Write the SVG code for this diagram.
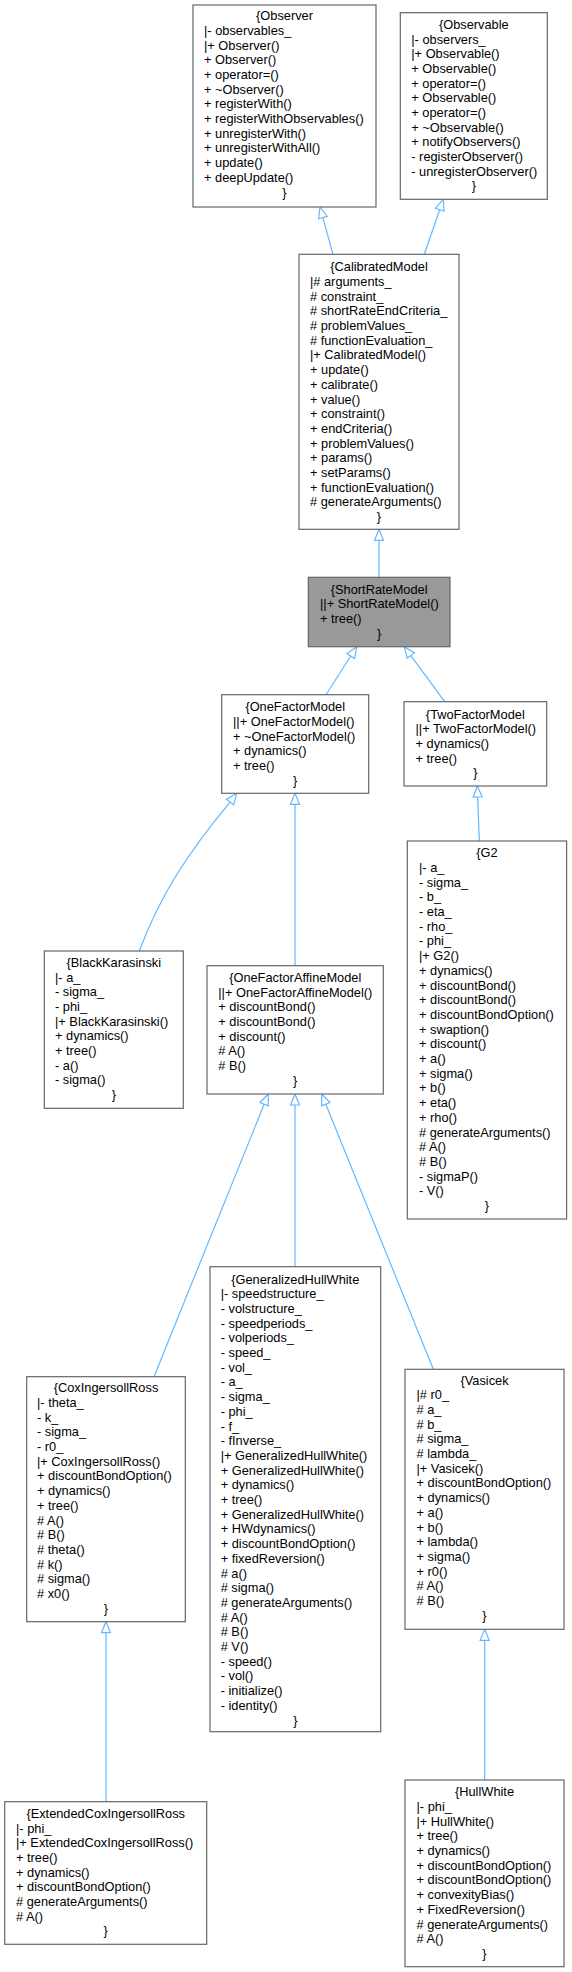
<svg xmlns="http://www.w3.org/2000/svg" width="572" height="1972" viewBox="0 0 572 1972">
<style>
.box{fill:#ffffff;stroke:#666666;stroke-width:1.2}
.hl{fill:#999999;stroke:#666666;stroke-width:1.2}
.t{font-family:"Liberation Sans",Arial,Helvetica,sans-serif;font-size:12.8px;fill:#000000}
.c{text-anchor:middle}
.e{fill:none;stroke:#63b8ff;stroke-width:1.2}
.ah{fill:#ffffff;stroke:#63b8ff;stroke-width:1.2}
</style>
<rect x="0" y="0" width="572" height="1972" fill="#ffffff"/>
<g id="edges">
<path class="e" d="M333,254.3 L322.9,217.6"/><polygon class="ah" points="320,207 327.2,216.4 318.6,218.8"/>
<path class="e" d="M424.3,254.3 L439.7,209.7"/><polygon class="ah" points="443.3,199.3 444,211.2 435.5,208.2"/>
<path class="e" d="M379,577.3 L379,540.3"/><polygon class="ah" points="379,529.3 383.5,540.3 374.5,540.3"/>
<path class="e" d="M326,694.7 L350.8,656"/><polygon class="ah" points="356.7,646.7 354.6,658.4 347,653.6"/>
<path class="e" d="M444.7,701.7 L410.8,655.6"/><polygon class="ah" points="404.3,646.7 414.4,652.9 407.2,658.2"/>
<path class="e" d="M479.3,841 L477.7,797"/><polygon class="ah" points="477.3,786 482.2,796.8 473.2,797.2"/>
<path class="e" d="M139.3,951 C160,895 190,850 230.1,802.1"/><polygon class="ah" points="236.7,793.3 233.7,804.8 226.5,799.4"/>
<path class="e" d="M295,965.7 L295,804.3"/><polygon class="ah" points="295,793.3 299.5,804.3 290.5,804.3"/>
<path class="e" d="M154,1376.7 L264.2,1104.2"/><polygon class="ah" points="268.3,1094 268.4,1105.9 260,1102.5"/>
<path class="e" d="M295,1266.7 L295,1105"/><polygon class="ah" points="295,1094 299.5,1105 290.5,1105"/>
<path class="e" d="M433.3,1369.3 L325.8,1104.2"/><polygon class="ah" points="321.7,1094 330,1102.5 321.7,1105.9"/>
<path class="e" d="M106,1801.7 L106,1632.7"/><polygon class="ah" points="106,1621.7 110.5,1632.7 101.5,1632.7"/>
<path class="e" d="M484.7,1780 L484.7,1640.3"/><polygon class="ah" points="484.7,1629.3 489.2,1640.3 480.2,1640.3"/>
</g>
<g id="Observer">
<rect class="box" x="193" y="5" width="183" height="202"/>
<text class="t" y="20.2"><tspan class="c" x="284.5">{Observer</tspan><tspan x="204" dy="14.7">|- observables_</tspan><tspan x="204" dy="14.7">|+ Observer()</tspan><tspan x="204" dy="14.7">+ Observer()</tspan><tspan x="204" dy="14.7">+ operator=()</tspan><tspan x="204" dy="14.7">+ ~Observer()</tspan><tspan x="204" dy="14.7">+ registerWith()</tspan><tspan x="204" dy="14.7">+ registerWithObservables()</tspan><tspan x="204" dy="14.7">+ unregisterWith()</tspan><tspan x="204" dy="14.7">+ unregisterWithAll()</tspan><tspan x="204" dy="14.7">+ update()</tspan><tspan x="204" dy="14.7">+ deepUpdate()</tspan><tspan class="c" x="284.5" dy="14.7">}</tspan></text>
</g>
<g id="Observable">
<rect class="box" x="400.3" y="12.7" width="147" height="186.6"/>
<text class="t" y="28.8"><tspan class="c" x="473.8">{Observable</tspan><tspan x="411.3" dy="14.7">|- observers_</tspan><tspan x="411.3" dy="14.7">|+ Observable()</tspan><tspan x="411.3" dy="14.7">+ Observable()</tspan><tspan x="411.3" dy="14.7">+ operator=()</tspan><tspan x="411.3" dy="14.7">+ Observable()</tspan><tspan x="411.3" dy="14.7">+ operator=()</tspan><tspan x="411.3" dy="14.7">+ ~Observable()</tspan><tspan x="411.3" dy="14.7">+ notifyObservers()</tspan><tspan x="411.3" dy="14.7">- registerObserver()</tspan><tspan x="411.3" dy="14.7">- unregisterObserver()</tspan><tspan class="c" x="473.8" dy="14.7">}</tspan></text>
</g>
<g id="CalibratedModel">
<rect class="box" x="299" y="254.3" width="160" height="275"/>
<text class="t" y="271.2"><tspan class="c" x="379">{CalibratedModel</tspan><tspan x="310" dy="14.7">|# arguments_</tspan><tspan x="310" dy="14.7"># constraint_</tspan><tspan x="310" dy="14.7"># shortRateEndCriteria_</tspan><tspan x="310" dy="14.7"># problemValues_</tspan><tspan x="310" dy="14.7"># functionEvaluation_</tspan><tspan x="310" dy="14.7">|+ CalibratedModel()</tspan><tspan x="310" dy="14.7">+ update()</tspan><tspan x="310" dy="14.7">+ calibrate()</tspan><tspan x="310" dy="14.7">+ value()</tspan><tspan x="310" dy="14.7">+ constraint()</tspan><tspan x="310" dy="14.7">+ endCriteria()</tspan><tspan x="310" dy="14.7">+ problemValues()</tspan><tspan x="310" dy="14.7">+ params()</tspan><tspan x="310" dy="14.7">+ setParams()</tspan><tspan x="310" dy="14.7">+ functionEvaluation()</tspan><tspan x="310" dy="14.7"># generateArguments()</tspan><tspan class="c" x="379" dy="14.7">}</tspan></text>
</g>
<g id="ShortRateModel">
<rect class="hl" x="308.3" y="577.3" width="141.7" height="69.4"/>
<text class="t" y="593.5"><tspan class="c" x="379.2">{ShortRateModel</tspan><tspan x="320" dy="14.7">||+ ShortRateModel()</tspan><tspan x="320" dy="14.7">+ tree()</tspan><tspan class="c" x="379.2" dy="14.7">}</tspan></text>
</g>
<g id="OneFactorModel">
<rect class="box" x="221.7" y="694.7" width="147" height="98.6"/>
<text class="t" y="711.2"><tspan class="c" x="295.2">{OneFactorModel</tspan><tspan x="233" dy="14.7">||+ OneFactorModel()</tspan><tspan x="233" dy="14.7">+ ~OneFactorModel()</tspan><tspan x="233" dy="14.7">+ dynamics()</tspan><tspan x="233" dy="14.7">+ tree()</tspan><tspan class="c" x="295.2" dy="14.7">}</tspan></text>
</g>
<g id="TwoFactorModel">
<rect class="box" x="404" y="701.7" width="142.7" height="84.3"/>
<text class="t" y="718.5"><tspan class="c" x="475.3">{TwoFactorModel</tspan><tspan x="415.5" dy="14.7">||+ TwoFactorModel()</tspan><tspan x="415.5" dy="14.7">+ dynamics()</tspan><tspan x="415.5" dy="14.7">+ tree()</tspan><tspan class="c" x="475.3" dy="14.7">}</tspan></text>
</g>
<g id="G2">
<rect class="box" x="407.3" y="841" width="159.3" height="378"/>
<text class="t" y="857.2"><tspan class="c" x="487">{G2</tspan><tspan x="419" dy="14.7">|- a_</tspan><tspan x="419" dy="14.7">- sigma_</tspan><tspan x="419" dy="14.7">- b_</tspan><tspan x="419" dy="14.7">- eta_</tspan><tspan x="419" dy="14.7">- rho_</tspan><tspan x="419" dy="14.7">- phi_</tspan><tspan x="419" dy="14.7">|+ G2()</tspan><tspan x="419" dy="14.7">+ dynamics()</tspan><tspan x="419" dy="14.7">+ discountBond()</tspan><tspan x="419" dy="14.7">+ discountBond()</tspan><tspan x="419" dy="14.7">+ discountBondOption()</tspan><tspan x="419" dy="14.7">+ swaption()</tspan><tspan x="419" dy="14.7">+ discount()</tspan><tspan x="419" dy="14.7">+ a()</tspan><tspan x="419" dy="14.7">+ sigma()</tspan><tspan x="419" dy="14.7">+ b()</tspan><tspan x="419" dy="14.7">+ eta()</tspan><tspan x="419" dy="14.7">+ rho()</tspan><tspan x="419" dy="14.7"># generateArguments()</tspan><tspan x="419" dy="14.7"># A()</tspan><tspan x="419" dy="14.7"># B()</tspan><tspan x="419" dy="14.7">- sigmaP()</tspan><tspan x="419" dy="14.7">- V()</tspan><tspan class="c" x="487" dy="14.7">}</tspan></text>
</g>
<g id="BlackKarasinski">
<rect class="box" x="44.3" y="951" width="139" height="157.3"/>
<text class="t" y="966.8"><tspan class="c" x="113.8">{BlackKarasinski</tspan><tspan x="55" dy="14.7">|- a_</tspan><tspan x="55" dy="14.7">- sigma_</tspan><tspan x="55" dy="14.7">- phi_</tspan><tspan x="55" dy="14.7">|+ BlackKarasinski()</tspan><tspan x="55" dy="14.7">+ dynamics()</tspan><tspan x="55" dy="14.7">+ tree()</tspan><tspan x="55" dy="14.7">- a()</tspan><tspan x="55" dy="14.7">- sigma()</tspan><tspan class="c" x="113.8" dy="14.7">}</tspan></text>
</g>
<g id="OneFactorAffineModel">
<rect class="box" x="207" y="965.7" width="176.3" height="128.3"/>
<text class="t" y="981.8"><tspan class="c" x="295.2">{OneFactorAffineModel</tspan><tspan x="218.3" dy="14.7">||+ OneFactorAffineModel()</tspan><tspan x="218.3" dy="14.7">+ discountBond()</tspan><tspan x="218.3" dy="14.7">+ discountBond()</tspan><tspan x="218.3" dy="14.7">+ discount()</tspan><tspan x="218.3" dy="14.7"># A()</tspan><tspan x="218.3" dy="14.7"># B()</tspan><tspan class="c" x="295.2" dy="14.7">}</tspan></text>
</g>
<g id="GeneralizedHullWhite">
<rect class="box" x="210" y="1266.7" width="170.7" height="465"/>
<text class="t" y="1283.5"><tspan class="c" x="295.3">{GeneralizedHullWhite</tspan><tspan x="220.7" dy="14.7">|- speedstructure_</tspan><tspan x="220.7" dy="14.7">- volstructure_</tspan><tspan x="220.7" dy="14.7">- speedperiods_</tspan><tspan x="220.7" dy="14.7">- volperiods_</tspan><tspan x="220.7" dy="14.7">- speed_</tspan><tspan x="220.7" dy="14.7">- vol_</tspan><tspan x="220.7" dy="14.7">- a_</tspan><tspan x="220.7" dy="14.7">- sigma_</tspan><tspan x="220.7" dy="14.7">- phi_</tspan><tspan x="220.7" dy="14.7">- f_</tspan><tspan x="220.7" dy="14.7">- fInverse_</tspan><tspan x="220.7" dy="14.7">|+ GeneralizedHullWhite()</tspan><tspan x="220.7" dy="14.7">+ GeneralizedHullWhite()</tspan><tspan x="220.7" dy="14.7">+ dynamics()</tspan><tspan x="220.7" dy="14.7">+ tree()</tspan><tspan x="220.7" dy="14.7">+ GeneralizedHullWhite()</tspan><tspan x="220.7" dy="14.7">+ HWdynamics()</tspan><tspan x="220.7" dy="14.7">+ discountBondOption()</tspan><tspan x="220.7" dy="14.7">+ fixedReversion()</tspan><tspan x="220.7" dy="14.7"># a()</tspan><tspan x="220.7" dy="14.7"># sigma()</tspan><tspan x="220.7" dy="14.7"># generateArguments()</tspan><tspan x="220.7" dy="14.7"># A()</tspan><tspan x="220.7" dy="14.7"># B()</tspan><tspan x="220.7" dy="14.7"># V()</tspan><tspan x="220.7" dy="14.7">- speed()</tspan><tspan x="220.7" dy="14.7">- vol()</tspan><tspan x="220.7" dy="14.7">- initialize()</tspan><tspan x="220.7" dy="14.7">- identity()</tspan><tspan class="c" x="295.3" dy="14.7">}</tspan></text>
</g>
<g id="CoxIngersollRoss">
<rect class="box" x="26.7" y="1376.7" width="158.6" height="245"/>
<text class="t" y="1392.2"><tspan class="c" x="106">{CoxIngersollRoss</tspan><tspan x="37" dy="14.7">|- theta_</tspan><tspan x="37" dy="14.7">- k_</tspan><tspan x="37" dy="14.7">- sigma_</tspan><tspan x="37" dy="14.7">- r0_</tspan><tspan x="37" dy="14.7">|+ CoxIngersollRoss()</tspan><tspan x="37" dy="14.7">+ discountBondOption()</tspan><tspan x="37" dy="14.7">+ dynamics()</tspan><tspan x="37" dy="14.7">+ tree()</tspan><tspan x="37" dy="14.7"># A()</tspan><tspan x="37" dy="14.7"># B()</tspan><tspan x="37" dy="14.7"># theta()</tspan><tspan x="37" dy="14.7"># k()</tspan><tspan x="37" dy="14.7"># sigma()</tspan><tspan x="37" dy="14.7"># x0()</tspan><tspan class="c" x="106" dy="14.7">}</tspan></text>
</g>
<g id="Vasicek">
<rect class="box" x="405" y="1369.3" width="159" height="260"/>
<text class="t" y="1384.5"><tspan class="c" x="484.5">{Vasicek</tspan><tspan x="416.5" dy="14.7">|# r0_</tspan><tspan x="416.5" dy="14.7"># a_</tspan><tspan x="416.5" dy="14.7"># b_</tspan><tspan x="416.5" dy="14.7"># sigma_</tspan><tspan x="416.5" dy="14.7"># lambda_</tspan><tspan x="416.5" dy="14.7">|+ Vasicek()</tspan><tspan x="416.5" dy="14.7">+ discountBondOption()</tspan><tspan x="416.5" dy="14.7">+ dynamics()</tspan><tspan x="416.5" dy="14.7">+ a()</tspan><tspan x="416.5" dy="14.7">+ b()</tspan><tspan x="416.5" dy="14.7">+ lambda()</tspan><tspan x="416.5" dy="14.7">+ sigma()</tspan><tspan x="416.5" dy="14.7">+ r0()</tspan><tspan x="416.5" dy="14.7"># A()</tspan><tspan x="416.5" dy="14.7"># B()</tspan><tspan class="c" x="484.5" dy="14.7">}</tspan></text>
</g>
<g id="ExtendedCoxIngersollRoss">
<rect class="box" x="4.7" y="1801.7" width="202" height="142.6"/>
<text class="t" y="1817.8"><tspan class="c" x="105.7">{ExtendedCoxIngersollRoss</tspan><tspan x="16" dy="14.7">|- phi_</tspan><tspan x="16" dy="14.7">|+ ExtendedCoxIngersollRoss()</tspan><tspan x="16" dy="14.7">+ tree()</tspan><tspan x="16" dy="14.7">+ dynamics()</tspan><tspan x="16" dy="14.7">+ discountBondOption()</tspan><tspan x="16" dy="14.7"># generateArguments()</tspan><tspan x="16" dy="14.7"># A()</tspan><tspan class="c" x="105.7" dy="14.7">}</tspan></text>
</g>
<g id="HullWhite">
<rect class="box" x="405" y="1780" width="159" height="186.7"/>
<text class="t" y="1796.2"><tspan class="c" x="484.5">{HullWhite</tspan><tspan x="416.5" dy="14.7">|- phi_</tspan><tspan x="416.5" dy="14.7">|+ HullWhite()</tspan><tspan x="416.5" dy="14.7">+ tree()</tspan><tspan x="416.5" dy="14.7">+ dynamics()</tspan><tspan x="416.5" dy="14.7">+ discountBondOption()</tspan><tspan x="416.5" dy="14.7">+ discountBondOption()</tspan><tspan x="416.5" dy="14.7">+ convexityBias()</tspan><tspan x="416.5" dy="14.7">+ FixedReversion()</tspan><tspan x="416.5" dy="14.7"># generateArguments()</tspan><tspan x="416.5" dy="14.7"># A()</tspan><tspan class="c" x="484.5" dy="14.7">}</tspan></text>
</g>
</svg>
